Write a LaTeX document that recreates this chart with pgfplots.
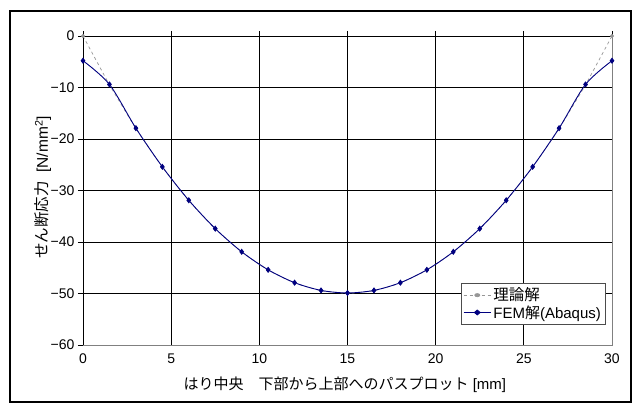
\documentclass[border=0pt]{standalone}
\usepackage{fontspec}
\setmainfont{Liberation Sans}
\newfontfamily\jp{Noto Sans CJK JP}
\usepackage{pgfplots}
\pgfplotsset{compat=1.18}
\definecolor{femcol}{RGB}{0,0,128}
\definecolor{theocol}{RGB}{150,150,150}

\begin{document}
\begin{tikzpicture}[x=1pt,y=1pt]
% page frame (633 x 403)
\path (-83,-58) rectangle (550,345);
\draw[black, line width=1.4pt] (-73,-57) rectangle (548,334);
\begin{axis}[
  at={(0,0)}, anchor=south west,
  scale only axis, width=529pt, height=309pt,
  xmin=0, xmax=30, ymin=-60, ymax=0,
  xtick={0,5,...,30}, ytick={-60,-50,...,0},
  yticklabels={−60,−50,−40,−30,−20,−10,0},
  xticklabels={0,5,10,15,20,25,30},
  tick label style={font=\fontsize{14}{16}\selectfont},
  xtick pos=right, xticklabel pos=left,
  ytick pos=left,
  tick align=outside, major tick length=5pt,
  tick style={black, line width=0.8pt},
  grid=major, major grid style={black, line width=0.9pt},
  axis line style={draw=none},
  xlabel={\fontsize{15}{17}\selectfont{\jp はり中央　下部から上部へのパスプロット} [mm]},
  ylabel={\fontsize{15.5}{17}\selectfont{\jp せん断応力} \ [N/mm\textsuperscript{2}]},
  every axis x label/.style={at={(rel axis cs:0.495,0)}, yshift=-40pt, anchor=center},
  every axis y label/.style={at={(rel axis cs:0,0.51)}, xshift=-40pt, rotate=90, anchor=center},
  legend style={at={(rel axis cs:0.987,0.2)}, anchor=north east, draw=black!70, fill=white,
    inner xsep=2pt, inner ysep=2.5pt, row sep=-1pt},
  legend cell align=left,
  legend image post style={xscale=1.6},
  clip=false,
]
\addplot[theocol, dashed, line width=0.7pt, mark=*, mark size=1.6pt, mark options={solid, fill=theocol}] coordinates {
  (0,0) (1.5,-9.5) (3,-18) (4.5,-25.5) (6,-32) (7.5,-37.5) (9,-42) (10.5,-45.5) (12,-48) (13.5,-49.5) (15,-50)
  (16.5,-49.5) (18,-48) (19.5,-45.5) (21,-42) (22.5,-37.5) (24,-32) (25.5,-25.5) (27,-18) (28.5,-9.5) (30,0)
};
\addplot[femcol, line width=0.9pt, smooth, mark=diamond*, mark size=2.4pt, mark options={fill=femcol}] coordinates {
  (0,-4.8) (1.5,-9.4) (3,-17.9) (4.5,-25.4) (6,-31.9) (7.5,-37.4) (9,-41.9) (10.5,-45.4) (12,-47.9) (13.5,-49.4) (15,-49.9)
  (16.5,-49.4) (18,-47.9) (19.5,-45.4) (21,-41.9) (22.5,-37.4) (24,-31.9) (25.5,-25.4) (27,-17.9) (28.5,-9.4) (30,-4.8)
};
\legend{{\jp\fontsize{15.5}{17}\selectfont 理論解}, {\fontsize{15}{17}\selectfont FEM{\jp 解}(Abaqus)}}
\draw[gray, line width=0.9pt] (rel axis cs:0,0) -- (rel axis cs:1,0) -- (rel axis cs:1,1);
\draw[black, line width=0.9pt] (rel axis cs:0,0) -- (rel axis cs:0,1) -- (rel axis cs:1,1);
\end{axis}
\end{tikzpicture}
\end{document}
